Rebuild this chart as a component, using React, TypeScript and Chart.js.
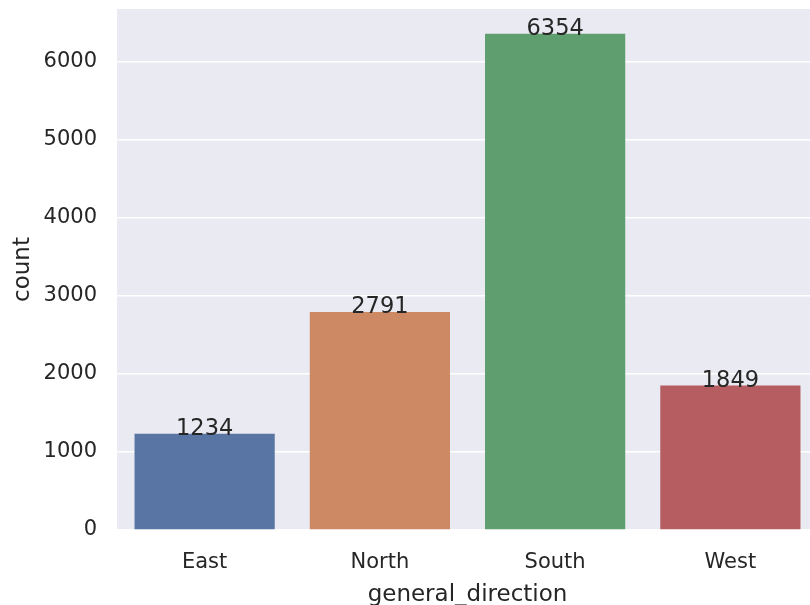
import React, { useEffect, useRef } from "react";
import { Chart, registerables } from "chart.js";

Chart.register(...registerables);

const categories = ["East", "North", "South", "West"];
const counts = [1234, 2791, 6354, 1849];
const barColors = ["#5975A4", "#CC8963", "#5F9E6E", "#B55D60"];
const yTicks = [0, 1000, 2000, 3000, 4000, 5000, 6000];
const yMax = 6672;

const FONT = "'DejaVu Sans', sans-serif";
const TEXT = "#262626";

const bgPlugin = {
  id: "bgPlugin",
  beforeDraw(chart: any) {
    const { ctx, chartArea } = chart;
    ctx.save();
    ctx.fillStyle = "#ffffff";
    ctx.fillRect(0, 0, chart.width, chart.height);
    ctx.fillStyle = "#EAEAF2";
    ctx.fillRect(chartArea.left, chartArea.top, chartArea.right - chartArea.left, chartArea.bottom - chartArea.top);
    ctx.restore();
  },
};

const labelPlugin = {
  id: "labelPlugin",
  afterDatasetsDraw(chart: any) {
    const { ctx } = chart;
    const meta = chart.getDatasetMeta(0);
    ctx.save();
    ctx.fillStyle = TEXT;
    ctx.font = `22.5px ${FONT}`;
    ctx.textAlign = "center";
    ctx.textBaseline = "alphabetic";
    meta.data.forEach((bar: any, i: number) => {
      ctx.fillText(String(counts[i]), bar.x, bar.y + 1);
    });
    ctx.restore();
  },
};

export default function App() {
  const ref = useRef<HTMLCanvasElement | null>(null);
  useEffect(() => {
    if (!ref.current) return;
    const chart = new Chart(ref.current, {
      type: "bar",
      data: {
        labels: categories,
        datasets: [
          {
            data: counts,
            backgroundColor: barColors,
            borderWidth: 0,
            barPercentage: 0.8,
            categoryPercentage: 1,
          },
        ],
      },
      options: {
        responsive: false,
        animation: false,
        devicePixelRatio: 1,
        layout: { padding: { top: 9, right: 12, left: 0, bottom: 0 } },
        plugins: { legend: { display: false }, tooltip: { enabled: false } },
        scales: {
          x: {
            grid: { display: false, drawTicks: false },
            border: { display: false },
            ticks: { color: TEXT, font: { family: FONT, size: 21 }, padding: 20 },
            title: {
              display: true,
              text: "general_direction",
              color: TEXT,
              font: { family: FONT, size: 23 },
              padding: { top: 0, bottom: -4 },
            },
            afterFit(scale: any) {
              scale.height = 75;
              scale.paddingLeft = 0;
              scale.paddingRight = 0;
            },
          },
          y: {
            min: 0,
            max: yMax,
            grid: { color: "#ffffff", lineWidth: 1.5, drawTicks: false },
            border: { display: false },
            ticks: {
              color: TEXT,
              font: { family: FONT, size: 21 },
              padding: 20,
              callback: (v: any) => String(v),
            },
            afterBuildTicks(scale: any) {
              scale.ticks = yTicks.map((v) => ({ value: v }));
            },
            title: {
              display: true,
              text: "count",
              color: TEXT,
              font: { family: FONT, size: 23 },
              padding: { top: 9, bottom: 0 },
            },
            afterFit(scale: any) {
              scale.width = 117;
              scale.paddingTop = 0;
              scale.paddingBottom = 0;
            },
          },
        },
      },
      plugins: [bgPlugin, labelPlugin],
    });
    return () => chart.destroy();
  }, []);
  return (
    <div style={{ position: "fixed", left: 0, top: 0, width: 810, height: 605, overflow: "hidden", background: "#fff" }}>
      <canvas ref={ref} width={830} height={605} style={{ width: 830, height: 605, display: "block" }} />
    </div>
  );
}
